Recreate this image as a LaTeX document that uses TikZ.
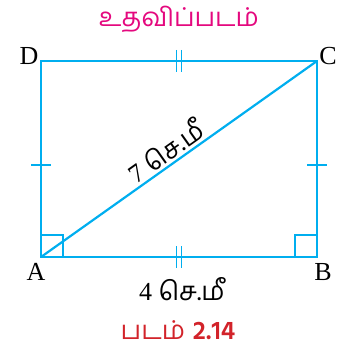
\documentclass[tikz,border=0pt]{standalone}
\usepackage{fontspec}
\usepackage{tikz}
\usetikzlibrary{calc, positioning}
\setmainfont{Liberation Serif}
\newfontfamily\tamil[Script=Tamil]{Hind Madurai}
\definecolor{figcyan}{HTML}{00AEEF}
\definecolor{figmagenta}{HTML}{E4087E}
\definecolor{figred}{HTML}{D2232A}

\begin{document}
\begin{tikzpicture}[
    x=1pt, y=-1pt,
    side/.style={draw=figcyan, line width=2.2pt},
    tick/.style={draw=figcyan, line width=1.8pt},
    vertex/.style={font=\fontsize{26}{26}\selectfont, inner sep=0pt},
    measure/.style={font=\fontsize{26}{26}\selectfont, inner sep=0pt}
]
\useasboundingbox (0,0) rectangle (345,355);

% Corners
\coordinate (A) at (41,257);
\coordinate (B) at (317,257);
\coordinate (C) at (317,61);
\coordinate (D) at (41,61);

% Rectangle and diagonal
\draw[side] (A) -- (B) -- (C) -- (D) -- cycle;
\draw[side] (A) -- (C);

% Right angles
\draw[tick] ($(A)+(0,-22)$) -- ($(A)+(22,-22)$) -- ($(A)+(22,0)$);
\draw[tick] ($(B)+(0,-22)$) -- ($(B)+(-22,-22)$) -- ($(B)+(-22,0)$);

% Equal sides
\foreach \p/\q in {A/B, D/C} {
  \draw[tick] ($(\p)!0.5!(\q)+(-2.5,-11)$) -- ($(\p)!0.5!(\q)+(-2.5,11)$);
  \draw[tick] ($(\p)!0.5!(\q)+(2.5,-11)$) -- ($(\p)!0.5!(\q)+(2.5,11)$);
}
\foreach \p/\q in {A/D, B/C} {
  \draw[tick] ($(\p)!0.47!(\q)+(-10,0)$) -- ($(\p)!0.47!(\q)+(10,0)$);
}

% Labels
\node[vertex] (labA) at (36,272) {A};
\node[vertex] (labB) at (323,272) {B};
\node[vertex] (labC) at (328,56) {C};
\node[vertex] (labD) at (29,56) {D};
\node[measure] (ab) at (182,289) {4 {\tamil செ.மீ}};
\path (A) -- (C) node[measure, pos=0.48, sloped, above=3pt] (ac) {7 {\tamil செ.மீ}};

% Titles
\node[font=\tamil\fontsize{26}{26}\selectfont, text=figmagenta] (title) at (179,19) {உதவிப்படம்};
\node[font=\tamil\fontsize{26}{26}\selectfont, text=figred] (caption) at (178,330) {படம் \textbf{2.14}};
\end{tikzpicture}
\end{document}
